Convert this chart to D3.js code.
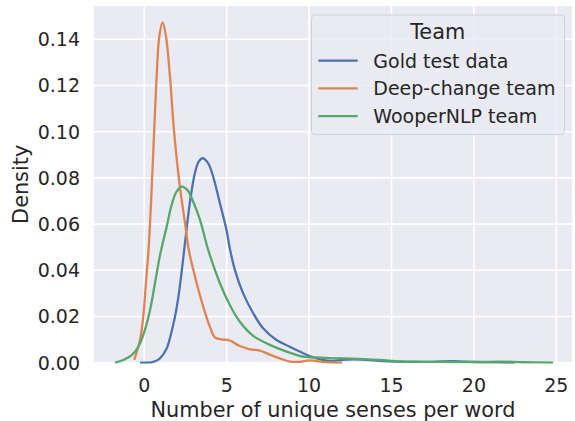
<!DOCTYPE html>
<html>
<head>
<meta charset="utf-8">
<script src="https://cdn.jsdelivr.net/npm/d3@7"></script>
<style>
  body { margin: 0; background: #fff; overflow: hidden; }
  svg { display: block; }
  text { font-family: "DejaVu Sans", sans-serif; fill: #262626; }
</style>
</head>
<body>
<div id="chart"></div>
<script>
// KDE curves
var goldX = [-0.26, 0.55, 0.95, 1.36, 1.66, 1.92, 2.12, 2.36, 2.61, 2.81, 3.07, 3.3, 3.54, 3.88, 4.18, 4.59, 4.99, 5.19, 5.5, 6.0, 6.61, 7.21, 8.02, 8.83, 9.64, 10.45, 11.25, 12.0, 12.7, 13.5, 14.5, 16.0, 17.5, 18.8, 20.0, 21.5, 22.5];
var goldY = [0, 0.0004, 0.0019, 0.0062, 0.0135, 0.022, 0.031, 0.045, 0.0605, 0.0715, 0.082, 0.087, 0.0885, 0.0863, 0.0805, 0.069, 0.0574, 0.0495, 0.0401, 0.030, 0.0214, 0.0149, 0.0098, 0.0069, 0.0041, 0.0019, 0.0008, 0.0012, 0.0015, 0.0012, 0.0007, 0.0004, 0.0004, 0.0007, 0.0003, 0.0001, 0];

var deepX = [-0.61, -0.26, -0.06, 0.10, 0.27, 0.45, 0.6, 0.75, 0.91, 1.11, 1.32, 1.56, 1.8, 2.16, 2.47, 2.7, 3.18, 3.58, 3.98, 4.28, 4.69, 5.19, 5.8, 6.41, 7.01, 7.62, 8.22, 8.83, 9.44, 10.04, 10.65, 11.25, 12.0];
var deepY = [0.0012, 0.0098, 0.020, 0.0344, 0.050, 0.0755, 0.100, 0.1238, 0.1411, 0.1473, 0.1411, 0.1238, 0.1007, 0.0762, 0.0605, 0.0488, 0.0344, 0.0242, 0.0156, 0.011, 0.0101, 0.0096, 0.0072, 0.0058, 0.0052, 0.0035, 0.0019, 0.0005, 0.0004, 0.0010, 0.0005, 0.0001, 0];

var wooperX = [-1.78, -1.27, -0.76, -0.36, 0.04, 0.35, 0.65, 0.97, 1.36, 1.66, 1.96, 2.27, 2.61, 2.97, 3.38, 3.88, 4.59, 5.19, 5.8, 6.61, 7.62, 8.63, 9.64, 10.65, 11.66, 12.6, 14.3, 15.5, 16.9, 18.5, 20.0, 21.6, 23.0, 24.8];
var wooperY = [0, 0.0012, 0.0033, 0.0069, 0.0142, 0.0228, 0.0344, 0.047, 0.0589, 0.0683, 0.074, 0.0762, 0.0748, 0.0697, 0.0618, 0.0488, 0.0344, 0.025, 0.0177, 0.0116, 0.0077, 0.0048, 0.0026, 0.0022, 0.0019, 0.0018, 0.0012, 0.0006, 0.0004, 0.0003, 0.0003, 0.0005, 0.0002, 0];

var teams = ["Gold test data", "Deep-change team", "WooperNLP team"];
var colors = ["#4c72b0", "#dd8452", "#55a868"];
var xTicks = [0, 5, 10, 15, 20, 25];
var yTicks = [0, 0.02, 0.04, 0.06, 0.08, 0.10, 0.12, 0.14];

var width = 575;
var height = 421;
var plotLeft = 94, plotRight = 572, plotTop = 6, plotBottom = 362.7;

var svg = d3.select("#chart").append("svg")
	.attr("width", width)
	.attr("height", height);

var x = d3.scaleLinear().domain([-3.05, 25.95]).range([plotLeft, plotRight]);
var y = d3.scaleLinear().domain([0, 0.1544]).range([plotBottom, plotTop]);

// background
svg.append("rect")
	.attr("x", plotLeft).attr("y", plotTop)
	.attr("width", plotRight - plotLeft).attr("height", plotBottom - plotTop)
	.attr("fill", "#eaeaf2");

// grid
svg.selectAll(".vgrid").data(xTicks).enter().append("line")
	.attr("x1", function(d) { return x(d); }).attr("x2", function(d) { return x(d); })
	.attr("y1", plotTop).attr("y2", plotBottom)
	.attr("stroke", "#fff").attr("stroke-width", 1.6);
svg.selectAll(".hgrid").data(yTicks).enter().append("line")
	.attr("x1", plotLeft).attr("x2", plotRight)
	.attr("y1", function(d) { return y(d); }).attr("y2", function(d) { return y(d); })
	.attr("stroke", "#fff").attr("stroke-width", 1.6);

// clip so smoothed tails stay inside the axes
svg.append("clipPath").attr("id", "plotclip").append("rect")
	.attr("x", plotLeft).attr("y", plotTop)
	.attr("width", plotRight - plotLeft).attr("height", plotBottom - plotTop + 1);

// curves
var series = [d3.zip(goldX, goldY), d3.zip(deepX, deepY), d3.zip(wooperX, wooperY)];
var line = d3.line()
	.x(function(d) { return x(d[0]); })
	.y(function(d) { return y(d[1]); })
	.curve(d3.curveCatmullRom.alpha(0.5));

svg.append("g").attr("clip-path", "url(#plotclip)")
	.selectAll(".kde").data(series).enter().append("path")
	.attr("d", line)
	.attr("fill", "none")
	.attr("stroke", function(d, i) { return colors[i]; })
	.attr("stroke-width", 2.3)
	.attr("stroke-linejoin", "round");

// tick labels
svg.selectAll(".xt").data(xTicks).enter().append("text")
	.attr("x", function(d) { return x(d); })
	.attr("y", 392)
	.attr("text-anchor", "middle")
	.style("font-size", "19px")
	.text(function(d) { return d; });

svg.selectAll(".yt").data(yTicks).enter().append("text")
	.attr("x", 80)
	.attr("y", function(d) { return y(d); })
	.attr("dy", "0.36em")
	.attr("text-anchor", "end")
	.style("font-size", "19px")
	.text(function(d) { return d3.format(".2f")(d); });

// axis labels
svg.append("text")
	.attr("x", (plotLeft + plotRight) / 2).attr("y", 416.5)
	.attr("text-anchor", "middle")
	.style("font-size", "20.8px")
	.text("Number of unique senses per word");

svg.append("text")
	.attr("transform", "translate(28," + ((plotTop + plotBottom) / 2) + ") rotate(-90)")
	.attr("text-anchor", "middle")
	.style("font-size", "20.8px")
	.text("Density");

// legend
var lg = svg.append("g");
lg.append("rect")
	.attr("x", 311.5).attr("y", 15)
	.attr("width", 253).attr("height", 119.5)
	.attr("rx", 3.5)
	.attr("fill", "#eaeaf2").attr("fill-opacity", 0.8)
	.attr("stroke", "#d0d0d8").attr("stroke-width", 1);

lg.append("text")
	.attr("x", 437.7).attr("y", 39)
	.attr("text-anchor", "middle")
	.style("font-size", "20.8px")
	.text("Team");

teams.forEach(function(t, i) {
	var yy = 60.7 + i * 27.7;
	lg.append("line")
		.attr("x1", 318.3).attr("x2", 357.7)
		.attr("y1", yy).attr("y2", yy)
		.attr("stroke", colors[i]).attr("stroke-width", 2.3);
	lg.append("text")
		.attr("x", 373.3).attr("y", yy + 7)
		.style("font-size", "19px")
		.text(t);
});
</script>
</body>
</html>
